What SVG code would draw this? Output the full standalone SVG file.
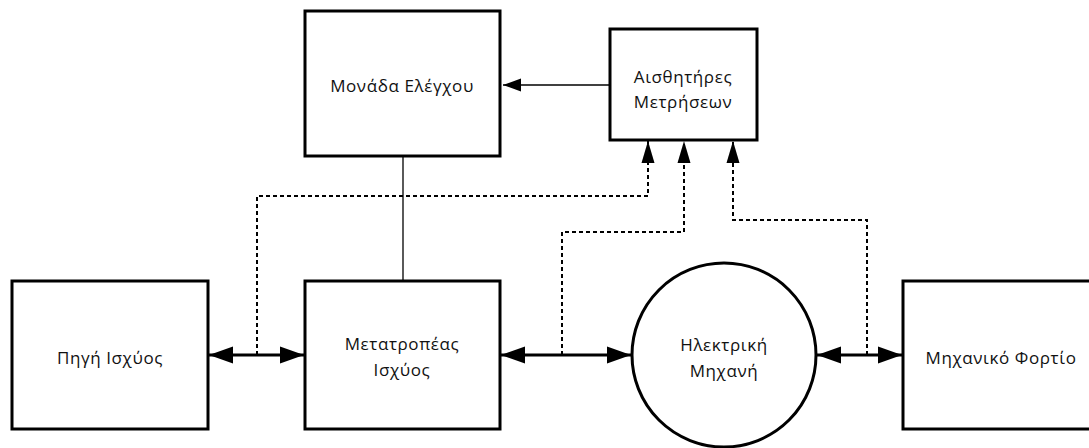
<svg xmlns="http://www.w3.org/2000/svg" width="1089" height="448" viewBox="0 0 1089 448">
<style>
.box{fill:#fff;stroke:#000;stroke-width:3}
.t{font-family:"Open Sans","Liberation Sans",sans-serif;font-size:17px;letter-spacing:0.6px;fill:#111;text-anchor:middle;dominant-baseline:central}
.pw{fill:none;stroke:#000;stroke-width:3}
.ds{fill:none;stroke:#000;stroke-width:2;stroke-dasharray:4 3}
.sl{fill:none;stroke:#000;stroke-width:1.3}
</style>
<defs>
<marker id="pe" markerUnits="userSpaceOnUse" markerWidth="26" markerHeight="20" viewBox="0 0 26 20" refX="25" refY="10" orient="auto-start-reverse"><path d="M1,1.5 L25,10 L1,18.5 Z" fill="#000"/></marker>
<marker id="se" markerUnits="userSpaceOnUse" markerWidth="24" markerHeight="16" viewBox="0 0 24 16" refX="23" refY="8" orient="auto"><path d="M1,1.5 L23,8 L1,14.5 Z" fill="#000"/></marker>
<marker id="ce" markerUnits="userSpaceOnUse" markerWidth="20" markerHeight="16" viewBox="0 0 20 16" refX="19" refY="8" orient="auto"><path d="M1,1.5 L19,8 L1,14.5 Z" fill="#000"/></marker>
</defs>
<g id="connectors">
<path class="sl" d="M403,156 V281"/>
<path class="sl" d="M610,85 H503" marker-end="url(#ce)"/>
<path class="ds" d="M257,355 V196 H648 V141" marker-end="url(#se)"/>
<path class="ds" d="M562,355 V232 H684 V141" marker-end="url(#se)"/>
<path class="ds" d="M867,355 V220 H733 V141" marker-end="url(#se)"/>
<path class="pw" d="M209,355 H304" marker-start="url(#pe)" marker-end="url(#pe)"/>
<path class="pw" d="M501,355 H631" marker-start="url(#pe)" marker-end="url(#pe)"/>
<path class="pw" d="M817,355 H902" marker-start="url(#pe)" marker-end="url(#pe)"/>
</g>
<g id="power-source">
<rect class="box" x="12" y="281" width="196" height="148"/>
<text class="t" x="110" y="357">Πηγή Ισχύος</text>
</g>
<g id="converter">
<rect class="box" x="305" y="281" width="195" height="148"/>
<text class="t" x="402" y="343">Μετατροπέας</text>
<text class="t" x="402" y="369">Ισχύος</text>
</g>
<g id="control-unit">
<rect class="box" x="305" y="11" width="195" height="145"/>
<text class="t" x="402" y="85">Μονάδα Ελέγχου</text>
</g>
<g id="sensors">
<rect class="box" x="610" y="29" width="147" height="111"/>
<text class="t" x="683" y="76">Αισθητήρες</text>
<text class="t" x="683" y="101">Μετρήσεων</text>
</g>
<g id="machine">
<circle class="box" cx="724" cy="355" r="92"/>
<text class="t" x="724" y="344">Ηλεκτρική</text>
<text class="t" x="724" y="370">Μηχανή</text>
</g>
<g id="load">
<rect class="box" x="903" y="281" width="200" height="148"/>
<text class="t" x="1001" y="357">Μηχανικό Φορτίο</text>
</g>
</svg>
